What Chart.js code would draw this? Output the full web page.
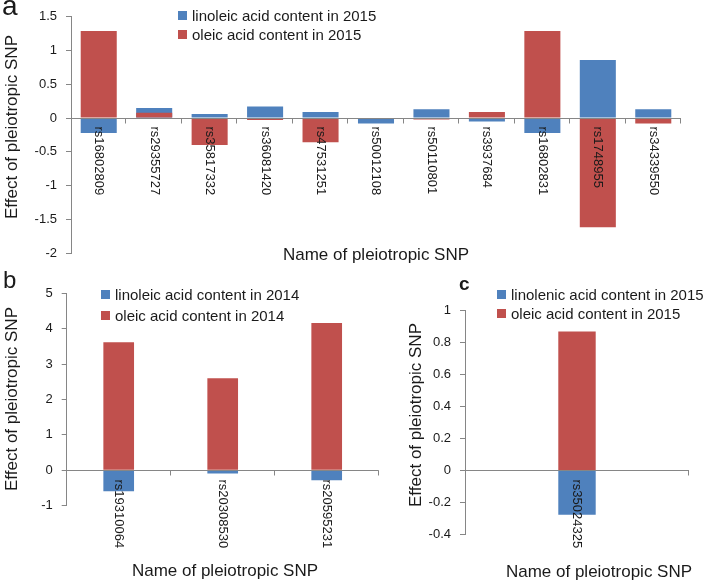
<!DOCTYPE html>
<html lang="en">
<head>
<meta charset="UTF-8">
<title>Effect of pleiotropic SNP</title>
<script src="https://cdn.jsdelivr.net/npm/chart.js"></script>
<style>
  body { margin: 0; background: #fff; font-family: "Liberation Sans", Arial, sans-serif; color: #1a1a1a; }
  #fig { position: relative; width: 709px; height: 582px; overflow: hidden; }
  canvas { position: absolute; }
  .tag { position: absolute; line-height: 1; }
  .leg { position: absolute; font-size: 15px; }
  .leg div { display: flex; align-items: center; white-space: nowrap; }
  .leg span { display: inline-block; width: 9px; height: 9px; margin-right: 5px; }
</style>
</head>
<body>
<div id="fig">
  <canvas id="chartA" width="709" height="272" style="left:0;top:0"></canvas>
  <canvas id="chartB" width="390" height="310" style="left:0;top:272px"></canvas>
  <canvas id="chartC" width="319" height="310" style="left:390px;top:272px"></canvas>
  <div class="tag" style="left:2px;top:-8px;font-size:28px">a</div>
  <div class="tag" style="left:3px;top:268px;font-size:24px">b</div>
  <div class="tag" style="left:459px;top:274px;font-size:19px;font-weight:bold">c</div>
</div>

<script>
  // panel a
  const snpA = ["rs16802809", "rs29355727", "rs35817332", "rs36081420", "rs47531251", "rs50012108",
                "rs50110801", "rs3937684", "rs16802831", "rs1748955", "rs34339550"];
  const linoleic2015 = [-0.22, 0.15, 0.06, 0.17, 0.09, -0.08, 0.13, -0.05, -0.22, 0.86, 0.13];
  const oleic2015a = [1.29, 0.08, -0.40, -0.03, -0.36, 0, -0.02, 0.09, 1.29, -1.62, -0.08];
  const seriesA = ["linoleic acid content in 2015", "oleic acid content in 2015"];
  const yTicksA = [-2, 1.5, 0.5]; // min, max, step

  // panel b
  const snpB = ["rs19310064", "rs20308530", "rs20595231"];
  const linoleic2014 = [-0.59, -0.09, -0.28];
  const oleic2014 = [3.62, 2.60, 4.16];
  const seriesB = ["linoleic acid content in 2014", "oleic acid content in 2014"];
  const yTicksB = [-1, 5, 1];

  // panel c
  const snpC = ["rs35024325"];
  const linolenic2015 = [-0.28];
  const oleic2015c = [0.87];
  const seriesC = ["linolenic acid content in 2015", "oleic acid content in 2015"];
  const yTicksC = [-0.4, 1, 0.2];

  const xTitle = "Name of pleiotropic SNP";
  const yTitle = "Effect of pleiotropic SNP";

  const BLUE = "#4F81BD", RED = "#C0504D", GREY = "#868686", INK = "#1a1a1a";
  const FONT = '"Liberation Sans", Arial, sans-serif';

  // excel style numbers: 1, 1.5, 0.8, -0.4, never -0
  function tickText(v) {
    const r = Math.round(v * 100) / 100;
    return r === 0 ? "0" : String(r);
  }

  // x axis sits on zero: line, tick marks between categories, rotated names, titles
  function snpAxis(o) {
    return {
      id: "snpAxis",
      afterDraw(chart) {
        const ctx = chart.ctx, area = chart.chartArea;
        const xs = chart.scales.x, ys = chart.scales.y;
        const n = chart.data.labels.length;
        const catW = (xs.right - xs.left) / n;
        const y0 = Math.round(ys.getPixelForValue(0)) + 0.5;

        ctx.save();
        ctx.strokeStyle = GREY;
        ctx.lineWidth = 1;
        ctx.beginPath();
        ctx.moveTo(area.left, y0);
        ctx.lineTo(area.right, y0);
        for (let i = 1; i <= n; i++) {
          const bx = Math.round(xs.left + i * catW) - 0.5;
          ctx.moveTo(bx, y0);
          ctx.lineTo(bx, y0 + 5);
        }
        ctx.stroke();

        ctx.fillStyle = INK;
        ctx.font = "13px " + FONT;
        ctx.textAlign = "left";
        ctx.textBaseline = "middle";
        chart.data.labels.forEach((name, i) => {
          ctx.save();
          ctx.translate(xs.getPixelForValue(i), y0 + o.gap);
          ctx.rotate(Math.PI / 2);
          ctx.fillText(name, 0, 0);
          ctx.restore();
        });

        ctx.font = "17px " + FONT;
        ctx.textAlign = "center";
        ctx.fillText(xTitle, o.xt[0], o.xt[1]);
        ctx.save();
        ctx.translate(o.yt[0], o.yt[1]);
        ctx.rotate(-Math.PI / 2);
        ctx.fillText(yTitle, 0, 0);
        ctx.restore();
        ctx.restore();
      }
    };
  }

  function drawPanel(id, labels, blueVals, redVals, names, yr, barFrac, pad, yWidth, txt) {
    const common = { grouped: false, categoryPercentage: 1, barPercentage: barFrac };
    new Chart(document.getElementById(id), {
      type: "bar",
      data: {
        labels: labels,
        datasets: [
          Object.assign({ label: names[0], data: blueVals, backgroundColor: BLUE, order: 1 }, common),
          Object.assign({ label: names[1], data: redVals, backgroundColor: RED, order: 0 }, common)
        ]
      },
      options: {
        responsive: false,
        animation: false,
        layout: { padding: pad },
        plugins: { legend: { display: false }, tooltip: { enabled: false } },
        scales: {
          x: { display: false },
          y: {
            min: yr[0],
            max: yr[1],
            ticks: { stepSize: yr[2], padding: 9, color: INK, font: { family: FONT, size: 13 }, callback: tickText },
            grid: { drawOnChartArea: false, drawTicks: true, tickLength: 5, color: GREY },
            border: { color: GREY },
            afterFit(s) { s.width = yWidth; }
          }
        }
      },
      plugins: [snpAxis(txt)]
    });
  }

  function legend(left, top, rowH, names) {
    const box = document.createElement("div");
    box.className = "leg";
    box.style.left = left + "px";
    box.style.top = top + "px";
    [BLUE, RED].forEach((c, i) => {
      const row = document.createElement("div");
      row.style.height = rowH + "px";
      const sw = document.createElement("span");
      sw.style.background = c;
      row.appendChild(sw);
      row.appendChild(document.createTextNode(names[i]));
      box.appendChild(row);
    });
    document.getElementById("fig").appendChild(box);
  }

  drawPanel("chartA", snpA, linoleic2015, oleic2015a, seriesA, yTicksA, 0.65,
    { left: 0, top: 11, right: 28, bottom: 19 }, 71,
    { gap: 8, xt: [376, 255], yt: [12.5, 127] });
  drawPanel("chartB", snpB, linoleic2014, oleic2014, seriesB, yTicksB, 0.295,
    { left: 0, top: 21.3, right: 11.3, bottom: 76.3 }, 66.7,
    { gap: 9, xt: [225, 299], yt: [12.5, 127] });
  drawPanel("chartC", snpC, linolenic2015, oleic2015c, seriesC, yTicksC, 0.167,
    { left: 0, top: 38.7, right: 20, bottom: 48 }, 75,
    { gap: 9, xt: [209, 300], yt: [26, 143] });

  legend(178, 5.5, 19, seriesA);
  legend(101, 283.5, 21, seriesB);
  legend(497, 284.5, 19, seriesC);
</script>
</body>
</html>
